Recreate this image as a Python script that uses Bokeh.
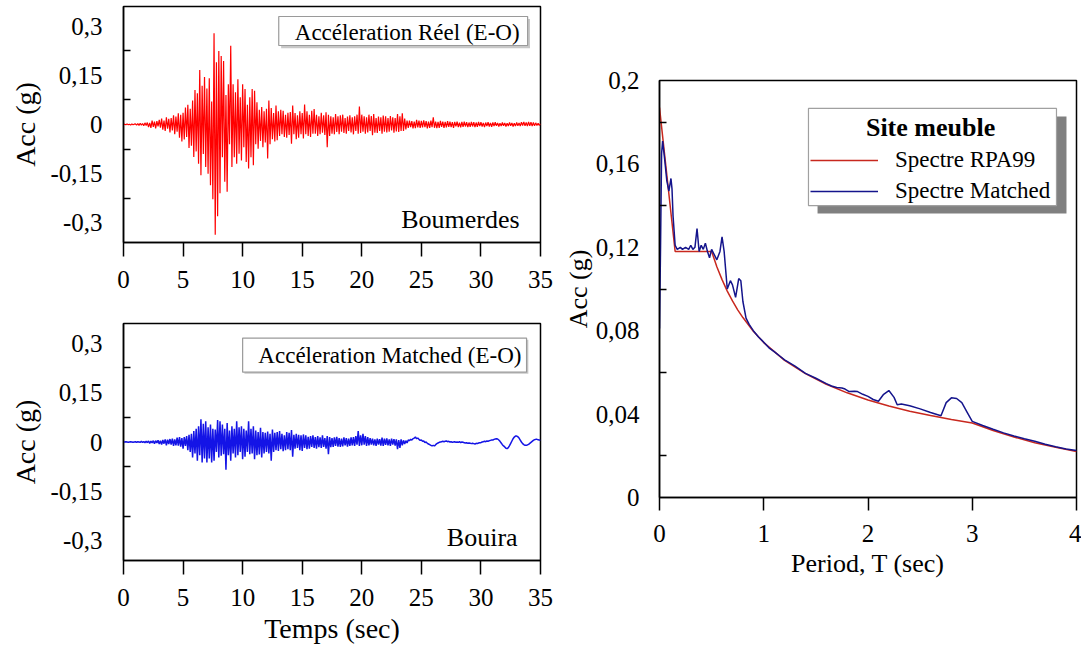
import numpy as np
from bokeh.plotting import figure
from bokeh.layouts import row, column
from bokeh.models import (Range1d, FixedTicker, CustomJSTickFormatter, Label,
                          BoxAnnotation, Legend, LegendItem)
from bokeh.embed import file_html
from bokeh.resources import INLINE

FONT = "Liberation Serif"

# ---------------- data ----------------
dt = 0.1
# Boumerdes recorded accelerogram (E-O), g, one row per second (0.1 s step)
acc_real_rows = [
    [0.000, 0.001, -0.001, 0.002, -0.001, 0.001, -0.002, 0.002, -0.001, 0.001],
    [0.002, -0.002, 0.003, -0.003, 0.004, -0.002, 0.003, -0.004, 0.005, -0.003],
    [0.006, -0.008, 0.005, -0.010, 0.012, -0.007, 0.009, -0.012, 0.010, -0.006],
    [0.014, -0.010, 0.018, -0.016, 0.012, -0.020, 0.022, -0.013, 0.017, -0.024],
    [0.020, -0.018, 0.028, -0.030, 0.024, -0.022, 0.034, -0.040, 0.030, -0.052],
    [0.036, -0.046, 0.052, -0.038, 0.060, -0.072, 0.048, -0.065, 0.073, -0.099],
    [0.105, -0.082, 0.095, -0.120, 0.166, -0.155, 0.118, -0.090, 0.145, -0.130],
    [0.110, -0.150, 0.141, -0.185, 0.070, -0.228, 0.278, -0.336, 0.190, -0.280],
    [0.224, -0.210, 0.209, -0.100, 0.194, -0.175, 0.090, -0.205, 0.123, -0.060],
    [0.240, -0.130, 0.123, -0.100, 0.098, -0.120, 0.138, -0.089, 0.083, -0.110],
    [0.123, -0.069, 0.108, -0.114, 0.060, -0.134, 0.083, -0.100, 0.108, -0.124],
    [0.103, -0.060, 0.068, -0.074, 0.045, -0.050, 0.053, -0.069, 0.040, -0.055],
    [0.048, -0.104, 0.073, -0.060, 0.050, -0.045, 0.035, -0.052, 0.058, -0.048],
    [0.040, -0.035, 0.045, -0.030, 0.042, -0.038, 0.030, -0.040, 0.036, -0.032],
    [0.038, -0.059, 0.058, -0.030, 0.035, -0.045, 0.028, -0.040, 0.040, -0.030],
    [0.035, -0.043, 0.061, -0.030, 0.040, -0.035, 0.030, -0.038, 0.042, -0.028],
    [0.047, -0.028, 0.030, -0.035, 0.025, -0.030, 0.036, -0.025, 0.028, -0.032],
    [0.037, -0.069, 0.030, -0.035, 0.025, -0.028, 0.022, -0.030, 0.032, -0.023],
    [0.025, -0.030, 0.028, -0.022, 0.030, -0.026, 0.020, -0.028, 0.024, -0.020],
    [0.028, -0.024, 0.022, -0.030, 0.025, -0.020, 0.030, -0.028, 0.055, -0.026],
    [0.030, -0.022, 0.025, -0.028, 0.022, -0.024, 0.030, -0.020, 0.026, -0.033],
    [0.032, -0.025, 0.020, -0.026, 0.024, -0.020, 0.022, -0.028, 0.027, -0.022],
    [0.025, -0.024, 0.020, -0.022, 0.026, -0.018, 0.022, -0.025, 0.020, -0.021],
    [0.032, -0.023, 0.025, -0.020, 0.034, -0.020, 0.018, -0.015, 0.012, -0.010],
    [0.012, -0.008, 0.010, -0.012, 0.009, -0.011, 0.014, -0.009, 0.012, -0.010],
    [0.011, -0.009, 0.013, -0.008, 0.010, -0.012, 0.009, -0.010, 0.012, -0.008],
    [0.022, -0.010, 0.009, -0.011, 0.008, -0.010, 0.011, -0.007, 0.009, -0.010],
    [0.008, -0.009, 0.010, -0.007, 0.009, -0.008, 0.007, -0.010, 0.008, -0.006],
    [0.009, -0.008, 0.006, -0.009, 0.008, -0.007, 0.009, -0.006, 0.007, -0.008],
    [0.006, -0.007, 0.008, -0.006, 0.007, -0.008, 0.006, -0.007, 0.008, -0.005],
    [0.007, -0.006, 0.005, -0.008, 0.006, -0.005, 0.007, -0.006, 0.005, -0.007],
    [0.006, -0.005, 0.007, -0.004, 0.005, -0.006, 0.004, -0.005, 0.006, -0.004],
    [0.005, -0.006, 0.004, -0.005, 0.006, -0.004, 0.005, -0.006, 0.004, -0.005],
    [0.006, -0.004, 0.005, -0.005, 0.007, -0.003, 0.008, -0.004, 0.006, -0.005],
    [0.008, -0.004, 0.007, -0.005, 0.006, -0.004, 0.005, -0.003, 0.004, -0.003],
    [0.002],
]
# Bouira matched accelerogram (E-O), g
acc_matched_rows = [
    [0.000, 0.000, 0.001, 0.000, -0.001, 0.000, 0.001, 0.000, -0.001, 0.000],
    [0.001, -0.001, 0.001, 0.000, -0.001, 0.002, -0.001, 0.001, -0.002, 0.002],
    [-0.002, 0.003, -0.004, 0.003, -0.003, 0.004, -0.005, 0.004, -0.003, 0.005],
    [-0.006, 0.004, -0.008, 0.006, -0.005, 0.008, -0.010, 0.007, -0.006, 0.009],
    [-0.008, 0.010, -0.012, 0.008, -0.010, 0.013, -0.011, 0.015, -0.014, 0.012],
    [-0.020, 0.015, -0.012, 0.018, -0.025, 0.022, -0.030, 0.025, -0.047, 0.033],
    [-0.035, 0.040, -0.057, 0.048, -0.040, 0.069, -0.062, 0.055, -0.050, 0.063],
    [-0.062, 0.045, -0.050, 0.053, -0.062, 0.040, -0.057, 0.038, -0.030, 0.067],
    [-0.047, 0.063, -0.042, 0.053, -0.037, 0.040, -0.084, 0.058, -0.040, 0.035],
    [-0.057, 0.048, -0.035, 0.040, -0.047, 0.063, -0.040, 0.045, -0.030, 0.048],
    [-0.052, 0.040, -0.045, 0.035, -0.030, 0.063, -0.037, 0.040, -0.035, 0.048],
    [-0.052, 0.035, -0.040, 0.030, -0.038, 0.043, -0.047, 0.030, -0.035, 0.028],
    [-0.030, 0.032, -0.035, 0.025, -0.057, 0.038, -0.030, 0.028, -0.025, 0.030],
    [-0.027, 0.033, -0.022, 0.025, -0.028, 0.020, -0.025, 0.030, -0.022, 0.028],
    [-0.025, 0.036, -0.045, 0.022, -0.020, 0.025, -0.018, 0.022, -0.025, 0.020],
    [-0.027, 0.023, -0.018, 0.020, -0.022, 0.016, -0.020, 0.018, -0.015, 0.020],
    [-0.018, 0.015, -0.020, 0.018, -0.016, 0.014, -0.018, 0.020, -0.015, 0.012],
    [-0.020, 0.018, -0.037, 0.015, -0.016, 0.012, -0.015, 0.014, -0.012, 0.016],
    [-0.014, 0.012, -0.015, 0.010, -0.013, 0.014, -0.010, 0.012, -0.014, 0.010],
    [-0.012, 0.014, -0.010, 0.015, -0.012, 0.018, -0.008, 0.033, -0.012, 0.020],
    [-0.010, 0.025, -0.008, 0.018, -0.012, 0.015, -0.010, 0.012, -0.008, 0.010],
    [-0.010, 0.008, -0.012, 0.010, -0.008, 0.009, -0.011, 0.013, -0.012, 0.010],
    [-0.009, 0.011, -0.010, 0.008, -0.012, 0.010, -0.008, 0.009, -0.011, 0.008],
    [-0.022, 0.006, -0.018, 0.008, -0.010, 0.005, -0.006, 0.004, -0.003, 0.006],
    [0.004, 0.008, 0.006, 0.010, 0.012, 0.015, 0.010, 0.012, 0.008, 0.005],
    [0.006, 0.002, 0.003, -0.002, 0.000, -0.004, -0.006, -0.008, -0.010, -0.012],
    [-0.010, -0.012, -0.008, -0.005, -0.003, -0.001, 0.000, 0.001, 0.002, 0.001],
    [0.002, 0.003, 0.001, 0.002, 0.000, 0.001, -0.001, 0.000, 0.001, -0.001],
    [0.000, -0.001, 0.001, -0.002, 0.000, -0.001, -0.002, -0.003, -0.002, -0.004],
    [-0.003, -0.004, -0.005, -0.004, -0.005, -0.006, -0.004, -0.005, -0.003, -0.002],
    [-0.002, 0.000, 0.001, 0.002, 0.001, 0.003, 0.002, 0.004, 0.005, 0.006],
    [0.006, 0.008, 0.009, 0.010, 0.009, 0.006, 0.002, -0.003, -0.008, -0.012],
    [-0.015, -0.019, -0.020, -0.017, -0.011, -0.004, 0.003, 0.010, 0.015, 0.018],
    [0.018, 0.016, 0.012, 0.006, 0.000, -0.005, -0.008, -0.010, -0.010, -0.009],
    [-0.007, -0.004, -0.001, 0.002, 0.005, 0.007, 0.008, 0.008, 0.007, 0.006],
    [0.005],
]
acc_real = [v for r in acc_real_rows for v in r]
acc_matched = [v for r in acc_matched_rows for v in r]
time_real = [round(i * dt, 1) for i in range(len(acc_real))]
time_matched = [round(i * dt, 1) for i in range(len(acc_matched))]

# Response spectra (Site meuble)
T_rpa = [0, 0.15, 0.5, 0.55, 0.6, 0.65, 0.7, 0.75, 0.8, 0.9, 1.0, 1.2, 1.4, 1.6,
         1.8, 2.0, 2.2, 2.4, 2.6, 2.8, 3.0, 3.2, 3.4, 3.6, 3.8, 4.0]
Sa_rpa = [0.187, 0.118, 0.118, 0.1107, 0.1045, 0.099, 0.0943, 0.0900, 0.0863,
          0.0797, 0.0743, 0.0658, 0.0594, 0.0543, 0.0502, 0.0468, 0.0439, 0.0414,
          0.0393, 0.0374, 0.0357, 0.0321, 0.0290, 0.0263, 0.0241, 0.0221]
T_match = [0, 0.01, 0.02, 0.03, 0.05, 0.07, 0.09, 0.1, 0.11, 0.12, 0.13, 0.15,
           0.17, 0.2, 0.22, 0.25, 0.28, 0.3, 0.32, 0.34, 0.36, 0.38, 0.4, 0.42,
           0.44, 0.46, 0.48, 0.5, 0.52, 0.55, 0.58, 0.6, 0.62, 0.65, 0.68, 0.7,
           0.73, 0.76, 0.78, 0.8, 0.83, 0.86, 0.9, 0.95, 1.0, 1.05, 1.1, 1.15,
           1.2, 1.3, 1.4, 1.5, 1.6, 1.65, 1.7, 1.75, 1.78, 1.82, 1.87, 1.9,
           1.95, 2.0, 2.05, 2.1, 2.15, 2.2, 2.25, 2.28, 2.32, 2.4, 2.5, 2.6,
           2.7, 2.75, 2.8, 2.85, 2.9, 2.95, 3.0, 3.1, 3.2, 3.3, 3.4, 3.5, 3.6,
           3.7, 3.8, 3.9, 4.0]
Sa_match = [0.081, 0.12, 0.165, 0.171, 0.162, 0.152, 0.147, 0.150, 0.153, 0.148,
            0.135, 0.121, 0.119, 0.120, 0.119, 0.120, 0.119, 0.121, 0.119, 0.120,
            0.129, 0.118, 0.121, 0.119, 0.122, 0.118, 0.115, 0.119, 0.117, 0.114,
            0.118, 0.125, 0.118, 0.100, 0.104, 0.102, 0.096, 0.105, 0.104, 0.094,
            0.086, 0.083, 0.080, 0.077, 0.0745, 0.0718, 0.070, 0.068, 0.066,
            0.063, 0.0595, 0.0572, 0.0546, 0.0535, 0.0528, 0.0525, 0.0520,
            0.0508, 0.0510, 0.0508, 0.0495, 0.0485, 0.0470, 0.0462, 0.0495,
            0.0513, 0.048, 0.0445, 0.0448, 0.0440, 0.0425, 0.0408, 0.0392,
            0.0455, 0.0478, 0.0475, 0.0455, 0.041, 0.0365, 0.0345, 0.0327,
            0.0310, 0.0295, 0.0282, 0.0270, 0.0255, 0.0243, 0.0233, 0.0225]

time_ticks = [0, 5, 10, 15, 20, 25, 30, 35]
acc_ticks = [-0.3, -0.15, 0, 0.15, 0.3]
acc_minor = [-0.225, -0.075, 0.075, 0.225]
T_ticks = [0, 1, 2, 3, 4]
Sa_ticks = [0, 0.04, 0.08, 0.12, 0.16, 0.2]
Sa_minor = [0.02, 0.06, 0.10, 0.14, 0.18]

comma = CustomJSTickFormatter(code="return tick.toString().replace('.', ',');")


def style(p, xticks, yticks, yminor, label_size):
    p.outline_line_color = "black"
    p.outline_line_width = 1.5
    p.outline_line_alpha = 1.0
    p.xgrid.visible = False
    p.ygrid.visible = False
    p.background_fill_color = "white"
    p.border_fill_color = "white"
    for ax in p.xaxis + p.yaxis:
        ax.axis_line_color = "black"
        ax.axis_line_width = 1.5
        ax.major_tick_line_color = "black"
        ax.major_tick_line_width = 1.5
        ax.minor_tick_line_color = "black"
        ax.minor_tick_line_width = 1.5
        ax.major_label_text_font = FONT
        ax.major_label_text_font_size = "25px"
        ax.major_label_text_color = "black"
        ax.axis_label_text_font = FONT
        ax.axis_label_text_font_size = label_size
        ax.axis_label_text_font_style = "normal"
        ax.axis_label_text_color = "black"
    xa = p.xaxis[0]
    xa.ticker = FixedTicker(ticks=xticks)
    xa.major_tick_in = 0
    xa.major_tick_out = 14
    xa.minor_tick_line_color = None
    xa.major_label_standoff = 14
    xa.axis_label_standoff = 4
    ya = p.yaxis[0]
    ya.ticker = FixedTicker(ticks=yticks, minor_ticks=yminor)
    ya.formatter = comma
    ya.major_tick_in = 0
    ya.major_tick_out = 0
    ya.minor_tick_in = 7
    ya.minor_tick_out = 0
    ya.major_label_standoff = 21


def acc_panel(height, top, bottom, times, values, color, lw, with_xlabel):
    p = figure(width=560, height=height, output_backend="svg", toolbar_location=None,
               x_range=Range1d(0, 35), y_range=Range1d(-0.36, 0.36),
               min_border_left=123, min_border_right=20,
               min_border_top=top, min_border_bottom=bottom)
    p.line(times, values, line_color=color, line_width=lw)
    p.yaxis.axis_label = "Acc (g)"
    if with_xlabel:
        p.xaxis.axis_label = "Temps (sec)"
    style(p, time_ticks, acc_ticks, acc_minor, "28px")
    p.yaxis[0].axis_label_standoff = 6
    return p


def box_label(p, l, r, t, b, dx, dy, text, cx, cy):
    p.add_layout(BoxAnnotation(left=l + dx, right=r + dx, top=t - dy, bottom=b - dy,
                               fill_color="#c8c8c8", fill_alpha=1, line_alpha=0))
    p.add_layout(BoxAnnotation(left=l, right=r, top=t, bottom=b,
                               fill_color="white", fill_alpha=1,
                               line_color="#9a9a9a", line_width=1.2, line_alpha=1))
    p.add_layout(Label(x=cx, y=cy, text=text, text_font=FONT, text_font_size="23px",
                       text_align="center", text_baseline="middle", text_color="black"))


# top-left: Boumerdes
p1 = acc_panel(315, 6, 73, time_real, acc_real, "#ff0000", 1.2, False)
box_label(p1, 13.03, 33.92, 0.3295, 0.241, 0.2, 0.008, "Accéleration Réel (E-O)", 23.81, 0.2816)
p1.add_layout(Label(x=33.25, y=-0.2886, text="Boumerdes", text_font=FONT,
                    text_font_size="26px", text_align="right", text_baseline="middle",
                    text_color="black"))

# bottom-left: Bouira
p2 = acc_panel(337, 8, 92, time_matched, acc_matched, "#1414e6", 1.5, True)
box_label(p2, 10.0, 33.83, 0.3157, 0.212, 0.15, 0.005, "Accéleration Matched (E-O)", 22.36, 0.2639)
p2.add_layout(Label(x=33.08, y=-0.291, text="Bouira", text_font=FONT,
                    text_font_size="26px", text_align="right", text_baseline="middle",
                    text_color="black"))

# right: response spectra
p3 = figure(width=521, height=652, output_backend="svg", toolbar_location=None,
            x_range=Range1d(0, 4), y_range=Range1d(0, 0.2),
            min_border_left=99, min_border_right=5, min_border_top=80,
            min_border_bottom=155)
p3.add_layout(BoxAnnotation(left=1.516, right=3.904, top=0.1827, bottom=0.1362,
                            fill_color="#808080", fill_alpha=1, line_alpha=0))
p3.add_layout(BoxAnnotation(left=1.429, right=3.808, top=0.1866, bottom=0.140,
                            fill_color="white", fill_alpha=1, line_color="#a0a0a0",
                            line_width=1.2, line_alpha=1))
r_rpa = p3.line(T_rpa, Sa_rpa, line_color="#c8281e", line_width=1.5)
r_match = p3.line(T_match, Sa_match, line_color="#14148c", line_width=1.5)
p3.xaxis.axis_label = "Period, T (sec)"
p3.yaxis.axis_label = "Acc (g)"
style(p3, T_ticks, Sa_ticks, Sa_minor, "26px")
p3.yaxis[0].axis_label_standoff = 0
p3.yaxis[0].major_label_standoff = 20
p3.xaxis[0].major_tick_out = 13

legend = Legend(items=[LegendItem(label="Spectre RPA99", renderers=[r_rpa]),
                       LegendItem(label="Spectre Matched", renderers=[r_match])],
                location=(151, 293), padding=0, margin=0, spacing=5,
                glyph_width=68, glyph_height=26, label_height=26, label_standoff=17,
                label_text_font=FONT, label_text_font_size="23px",
                label_text_color="black", border_line_alpha=0,
                background_fill_alpha=0)
p3.add_layout(legend)
p3.add_layout(Label(x=2.6, y=0.1775, text="Site meuble", text_font=FONT,
                    text_font_size="26px", text_font_style="bold",
                    text_align="center", text_baseline="middle", text_color="black"))

layout = row(column(p1, p2, spacing=0), p3, spacing=0)
open("out.html", "w").write(file_html(layout, INLINE))
